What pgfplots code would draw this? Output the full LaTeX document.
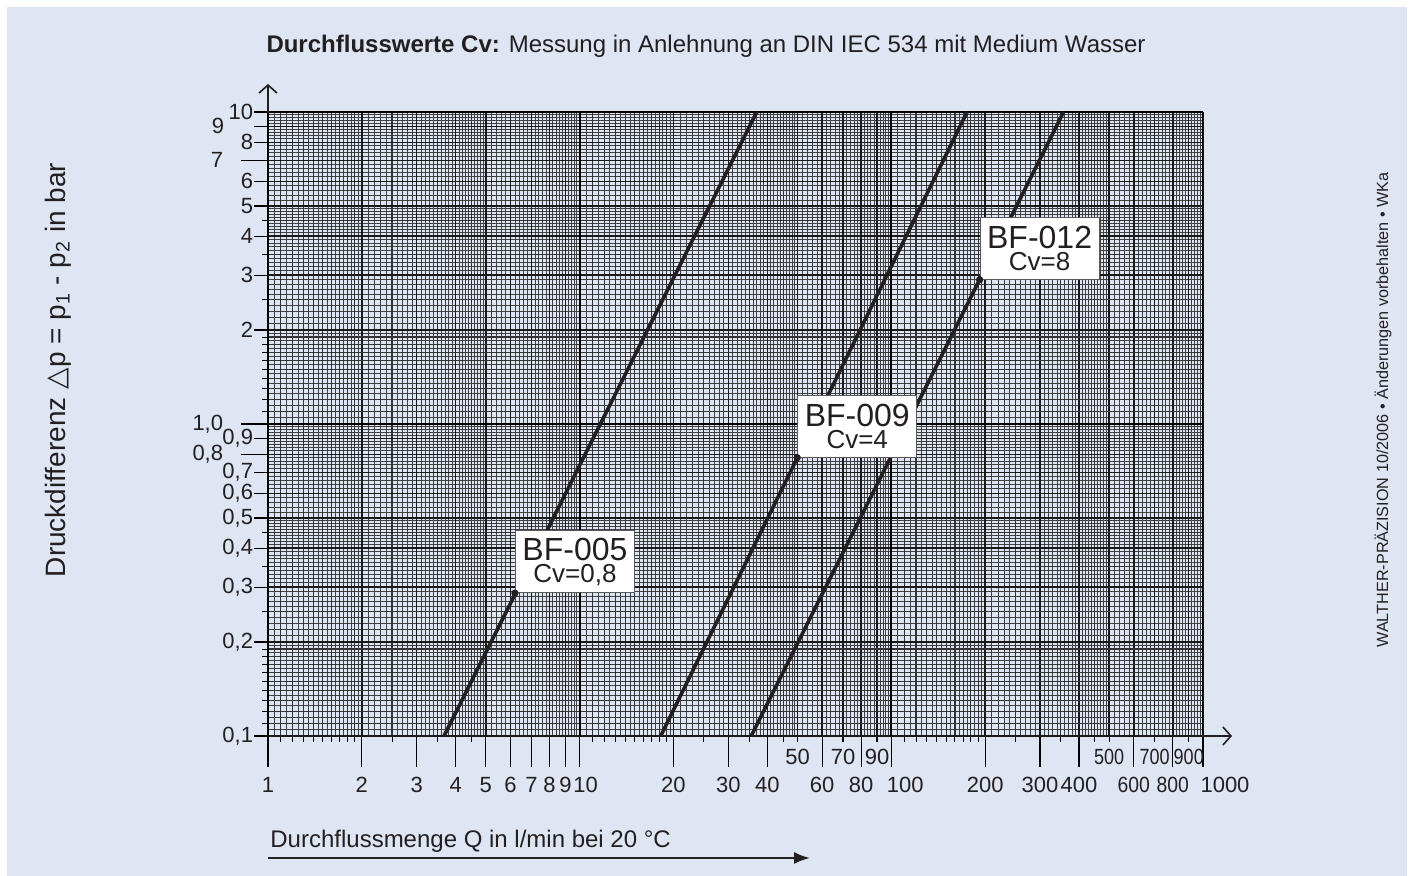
\documentclass[border=0pt]{standalone}
\usepackage{fontspec}
\setmainfont{Liberation Sans}
\newfontfamily\dejavu{DejaVu Sans}
\usepackage{graphicx}
\usepackage{pgfplots}
\pgfplotsset{compat=1.18}
\usetikzlibrary{arrows.meta}
\definecolor{panel}{RGB}{223,230,243}
\definecolor{ink}{RGB}{35,31,32}
\tikzset{lbl/.style={anchor=south west, fill=white, draw=black!65, line width=0.5pt,
    minimum width=59.5pt, minimum height=31pt, inner sep=1pt, align=center, text=ink}}
\begin{document}
\begin{tikzpicture}
\fill[white] (0,0) rectangle (706pt,438pt);
\fill[panel] (3.5pt,0pt) rectangle (703.5pt,434.5pt);

% fine grid
\begin{loglogaxis}[xmin=1, xmax=1000, ymin=0.1, ymax=10, scale only axis, width=467.5pt, height=312pt,
  at={(134pt,70pt)}, anchor=south west, axis line style={draw=none}, major tick length=0pt, minor tick length=0pt,
  xticklabel=\empty, yticklabel=\empty, xmajorgrids, ymajorgrids,
  major grid style={black!75, line width=0.45pt},
  xtick={1.05,1.15,1.25,1.35,1.45,1.55,1.65,1.75,1.85,1.95,2.1,2.2,2.3,2.4,2.6,2.7,2.8,2.9,3.1,3.2,3.3,3.4,3.6,3.7,3.8,3.9,4.1,4.2,4.3,4.4,4.6,4.7,4.8,4.9,5.2,5.4,5.6,5.8,6.2,6.4,6.6,6.8,7.2,7.4,7.6,7.8,8.2,8.4,8.6,8.8,9.2,9.4,9.6,9.8,
  10.5,11.5,12.5,13.5,14.5,15.5,16.5,17.5,18.5,19.5,21,22,23,24,26,27,28,29,31,32,33,34,36,37,38,39,41,42,43,44,46,47,48,49,52,54,56,58,62,64,66,68,72,74,76,78,82,84,86,88,92,94,96,98,
  105,115,125,135,145,155,165,175,185,195,210,220,230,240,260,270,280,290,310,320,330,340,360,370,380,390,410,420,430,440,460,470,480,490,520,540,560,580,620,640,660,680,720,740,760,780,820,840,860,880,920,940,960,980},
  ytick={0.105,0.115,0.125,0.135,0.145,0.155,0.165,0.175,0.185,0.195,0.21,0.22,0.23,0.24,0.26,0.27,0.28,0.29,0.31,0.32,0.33,0.34,0.36,0.37,0.38,0.39,0.41,0.42,0.43,0.44,0.46,0.47,0.48,0.49,0.52,0.54,0.56,0.58,0.62,0.64,0.66,0.68,0.72,0.74,0.76,0.78,0.82,0.84,0.86,0.88,0.92,0.94,0.96,0.98,
  1.05,1.15,1.25,1.35,1.45,1.55,1.65,1.75,1.85,1.95,2.1,2.2,2.3,2.4,2.6,2.7,2.8,2.9,3.1,3.2,3.3,3.4,3.6,3.7,3.8,3.9,4.1,4.2,4.3,4.4,4.6,4.7,4.8,4.9,5.2,5.4,5.6,5.8,6.2,6.4,6.6,6.8,7.2,7.4,7.6,7.8,8.2,8.4,8.6,8.8,9.2,9.4,9.6,9.8}]
\end{loglogaxis}

% x decorations
\begin{loglogaxis}[xmin=1, xmax=1000, ymin=0.1, ymax=10, scale only axis, width=467.5pt, height=312pt,
  at={(134pt,70pt)}, anchor=south west, axis x line*=bottom, axis y line=none, ytick=\empty,
  axis line style={black, line width=0.8pt},
  tick align=outside, major tick length=15.5pt, minor tick length=3pt,
  tick style={black, line width=0.6pt}, minor tick style={black, line width=0.5pt},
  xtick={1,2,3,4,5,6,7,8,9,10,20,30,40,60,80,100,200,300,400,600,800,1000},
  xticklabels={1,2,3,4,5,6,7,8,9,\kern6pt 10,20,30,40,60,80,\kern14pt 100,200,300,400,\scalebox{0.88}[1]{600},\scalebox{0.88}[1]{800},\kern22pt 1000},
  minor xtick={1.1,1.2,1.3,1.4,1.5,1.6,1.7,1.8,1.9,2.5,3.5,4.5,11,12,13,14,15,16,17,18,19,25,35,45,110,120,130,140,150,160,170,180,190,250,350,450},
  xmajorgrids, xminorgrids,
  major grid style={black!90, line width=0.7pt},
  minor grid style={black!80, line width=0.55pt},
  xticklabel style={font=\fontsize{11}{13}\selectfont, text=ink, anchor=base, yshift=-13pt},
  extra x ticks={50,70,90,500,700,900},
  extra x tick labels={50,70,90,\scalebox{0.82}[1]{500},\scalebox{0.82}[1]{700},\scalebox{0.82}[1]{900}},
  extra x tick style={grid=major, major tick length=3pt, xticklabel style={yshift=1.5pt}}]
\end{loglogaxis}

% y decorations and data
\begin{loglogaxis}[xmin=1, xmax=1000, ymin=0.1, ymax=10, scale only axis, width=467.5pt, height=312pt,
  at={(134pt,70pt)}, anchor=south west, axis y line*=left, axis x line=none, xtick=\empty,
  axis line style={black, line width=0.8pt},
  tick align=outside, major tick length=7pt, minor tick length=3pt,
  tick style={black, line width=0.6pt}, minor tick style={black, line width=0.5pt},
  ytick={0.1,0.2,0.3,0.4,0.5,0.6,0.7,0.9,2,3,4,5,6,8,9,10},
  yticklabels={{0,1},{0,2},{0,3},{0,4},{0,5},{0,6},{0,7},{0,9},2,3,4,5,6,8,{\raisebox{-1.5pt}{9}\kern14.5pt},10},
  minor ytick={0.11,0.12,0.13,0.14,0.15,0.16,0.17,0.18,0.19,0.25,0.35,0.45,1.1,1.2,1.3,1.4,1.5,1.6,1.7,1.8,1.9,2.5,3.5,4.5},
  ymajorgrids, yminorgrids,
  major grid style={black!90, line width=0.7pt},
  minor grid style={black!80, line width=0.55pt},
  yticklabel style={font=\fontsize{11}{13}\selectfont, text=ink, anchor=east, xshift=3pt},
  extra y ticks={0.8,1,7},
  extra y tick labels={{0,8},{1,0},\raisebox{-2pt}{7}},
  extra y tick style={grid=major, major tick length=13.5pt, yticklabel style={xshift=-8.5pt}}]
\draw[black, line width=1pt] (axis cs:10,0.1) -- (axis cs:10,10);
\draw[black, line width=1pt] (axis cs:100,0.1) -- (axis cs:100,10);
\draw[black, line width=1pt] (axis cs:1000,0.1) -- (axis cs:1000,10);
\draw[black, line width=1pt] (axis cs:1,1) -- (axis cs:1000,1);
\draw[black, line width=1pt] (axis cs:1,10) -- (axis cs:1000,10);

\addplot[ink, line width=1.8pt] coordinates {(3.67,0.1) (37,10)};
\addplot[ink, line width=1.8pt] coordinates {(18.2,0.1) (175,10)};
\addplot[ink, line width=1.8pt] coordinates {(35.5,0.1) (357,10)};

\node[lbl] at (axis cs:6.2,0.287) {{\fontsize{16}{17}\selectfont BF-005}\\[-1pt]{\fontsize{13}{14}\selectfont Cv=0,8}};
\node[lbl] at (axis cs:49.9,0.78) {{\fontsize{16}{17}\selectfont BF-009}\\[-1pt]{\fontsize{13}{14}\selectfont Cv=4}};
\node[lbl] at (axis cs:192,2.9) {{\fontsize{16}{17}\selectfont BF-012}\\[-1pt]{\fontsize{13}{14}\selectfont Cv=8}};

\addplot[only marks, mark=*, mark size=1.6pt, ink] coordinates {(6.2,0.287) (49.9,0.78) (192,2.9)};
\end{loglogaxis}

% axis arrows
\draw[ink, line width=0.8pt, -{Straight Barb[length=4pt,width=9pt]}] (601pt,70pt) -- (616pt,70pt);
\draw[ink, line width=0.8pt, -{Straight Barb[length=4pt,width=9pt]}] (134pt,381.5pt) -- (134pt,396pt);

% titles and labels
\node[text=ink, font=\fontsize{12}{14}\selectfont] at (353pt,415pt)
  {\textbf{Durchflusswerte Cv:} Messung in Anlehnung an DIN IEC 534 mit Medium Wasser};
\node[text=ink, anchor=base west, inner sep=0pt, font=\fontsize{12}{14}\selectfont] at (135pt,14pt)
  {Durchflussmenge Q in l/min bei 20 °C};
\draw[ink, line width=1pt, -{Latex[length=8pt,width=6pt]}] (134pt,9pt) -- (405pt,9pt);
\node[text=ink, rotate=90, font=\fontsize{14}{16}\selectfont] at (29pt,253pt)
  {Druckdifferenz {\dejavu △}p = p\textsubscript{1} - p\textsubscript{2} in bar};
\node[text=ink, rotate=90, font=\fontsize{8.1}{9}\selectfont] at (691.5pt,233pt)
  {WALTHER-PRÄZISION 10/2006 • Änderungen vorbehalten • WKa};
\end{tikzpicture}
\end{document}
